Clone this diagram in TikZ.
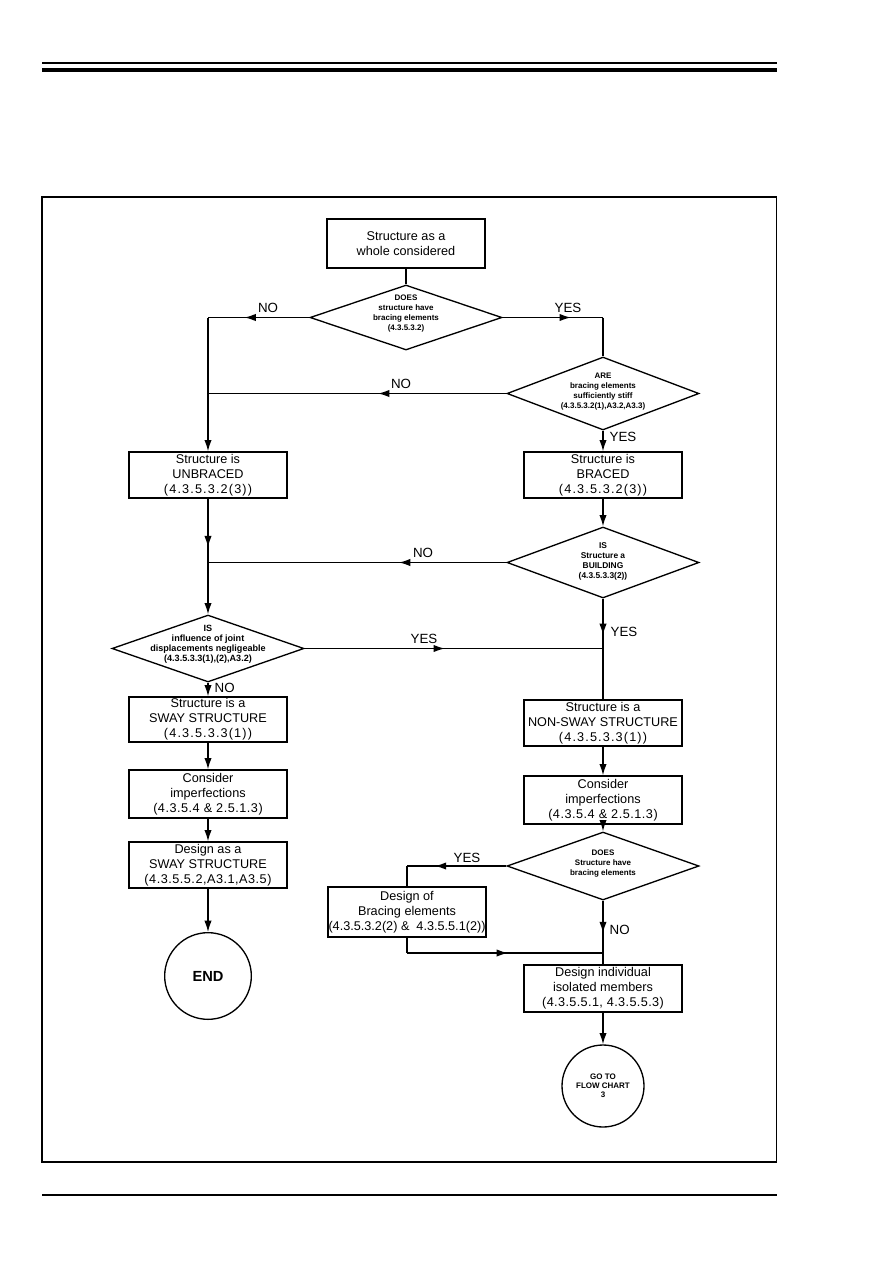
\documentclass[tikz,border=0pt]{standalone}
\usepackage{fontspec}
\setmainfont{Liberation Sans}
\usetikzlibrary{shapes.geometric,arrows.meta,decorations.markings}
\begin{document}
\begin{tikzpicture}[x=0.75pt,y=-0.75pt,line width=1pt,
  box/.style={draw,rectangle,minimum width=118.5pt,inner sep=0pt,align=center,font=\fontsize{9.5}{11.25}\selectfont},
  dia/.style={draw,diamond,inner sep=0pt,minimum width=144pt},
  dtext/.style={inner sep=0pt,align=center,font=\fontsize{6}{7.5}\selectfont\bfseries},
  circ/.style={draw,circle,inner sep=0pt,align=center,font=\bfseries},
  lab/.style={font=\fontsize{10}{12}\selectfont,inner sep=0pt},
  tip/.style={-{Latex[length=8.5pt,width=5.5pt]}},
  marr/.style={postaction={decorate},decoration={markings,mark=at position #1 with {\arrow{Latex[length=8.5pt,width=5.5pt]}}}}
]
\useasboundingbox (0,0) rectangle (893,1263);
% page rules and frame
\draw[line width=0.9pt] (42,63) -- (777,63);
\fill (42,68) rectangle (777,72.5);
\draw[line width=0.9pt] (42,197) rectangle (776.5,1162);
\draw[line width=0.9pt] (42,1195) -- (777,1195);

% nodes
\node[box,minimum height=36.75pt] (n1) at (406,243.5) {Structure as a\\whole considered};
\node[dia,minimum height=48.75pt] (d1) at (406,317.5) {};
\node[dtext] (t1) at (406,314) {DOES\\structure have\\bracing elements\\(4.3.5.3.2)};
\node[dia,minimum height=54.75pt] (d2) at (603,393.5) {};
\node[dtext] (t2) at (603,392) {ARE\\bracing elements\\sufficiently stiff\\(4.3.5.3.2(1),A3.2,A3.3)};
\node[box,minimum height=34.5pt] (unbr) at (208,475) {Structure is\\UNBRACED\\{\addfontfeatures{LetterSpace=9}(4.3.5.3.2(3))}};
\node[box,minimum height=34.5pt] (br) at (603,475) {Structure is\\BRACED\\{\addfontfeatures{LetterSpace=9}(4.3.5.3.2(3))}};
\node[dia,minimum height=53.25pt] (d3) at (603,562.5) {};
\node[dtext,font=\fontsize{6.3}{7.5}\selectfont\bfseries] (t3) at (603,561) {IS\\Structure a\\BUILDING\\(4.3.5.3.3(2))};
\node[dia,minimum height=50.25pt] (d4) at (208,648.5) {};
\node[dtext,font=\fontsize{6.8}{7.5}\selectfont\bfseries] (t4) at (208,644) {IS\\influence of joint\\displacements negligeable\\(4.3.5.3.3(1),(2),A3.2)};
\node[box,minimum height=33.75pt] (sway) at (208,719.5) {Structure is a\\SWAY STRUCTURE\\{\addfontfeatures{LetterSpace=9}(4.3.5.3.3(1))}};
\node[box,minimum height=34.5pt] (nons) at (603,723) {Structure is a\\NON-SWAY STRUCTURE\\{\addfontfeatures{LetterSpace=9}(4.3.5.3.3(1))}};
\node[box,minimum height=36pt] (impL) at (208,794) {Consider\\imperfections\\{\addfontfeatures{LetterSpace=4}(4.3.5.4 \& 2.5.1.3)}};
\node[box,minimum height=36pt] (impR) at (603,800) {Consider\\imperfections\\{\addfontfeatures{LetterSpace=4}(4.3.5.4 \& 2.5.1.3)}};
\node[box,minimum height=34.5pt] (desS) at (208,865) {Design as a\\SWAY STRUCTURE\\{\addfontfeatures{LetterSpace=4}(4.3.5.5.2,A3.1,A3.5)}};
\node[dia,minimum height=51pt] (d5) at (603,866) {};
\node[dtext] (t5) at (603,864) {DOES\\Structure have\\bracing elements};
\node[box,minimum height=37.5pt] (desB) at (407,912) {Design of\\Bracing elements\\(4.3.5.3.2(2) \&\ \ 4.3.5.5.1(2))};
\node[box,minimum height=35.25pt] (desI) at (603,988.5) {Design individual\\isolated members\\{\addfontfeatures{LetterSpace=3}(4.3.5.5.1, 4.3.5.5.3)}};
\node[circ,minimum size=65pt,font=\fontsize{11}{13}\selectfont\bfseries] (endC) at (208,976) {END};
\node[circ,minimum size=61.5pt,font=\fontsize{6}{6.75}\selectfont\bfseries] (goC) at (603,1086) {GO TO\\FLOW CHART\\3};

% corner / junction coordinates
\coordinate (cNW) at (208,317.5);
\coordinate (cNE) at (603,317.5);
\coordinate (cL2) at (208,393.5);
\coordinate (cL3) at (208,562.5);
\coordinate (cR4) at (603,648.5);
\coordinate (cB1) at (407,866);
\coordinate (cB2) at (407,953);
\coordinate (cR5) at (603,953);

% connectors
\draw (n1.south) -- (d1.north);
\draw[marr=0.64] (d1.west) -- (cNW);
\draw[tip] (cNW) -- (unbr.north);
\draw[marr=0.68] (d1.east) -- (cNE);
\draw (cNE) -- (d2.north);
\draw[marr=0.43] (d2.west) -- (cL2);
\draw[tip] (d2.south) -- (br.north);
\draw[tip,marr=0.42] (unbr.south) -- (d4.north);
\draw[tip] (br.south) -- (d3.north);
\draw[marr=0.36] (d3.west) -- (cL3);
\draw[marr=0.73] (d3.south) -- (cR4);
\draw (cR4) -- (nons.north);
\draw[marr=0.47] (d4.east) -- (cR4);
\draw[tip] (d4.south) -- (sway.north);
\draw[tip] (sway.south) -- (impL.north);
\draw[tip] (impL.south) -- (desS.north);
\draw[tip] (desS.south) -- (endC.north);
\draw[tip] (nons.south) -- (impR.north);
\draw[tip] (impR.south) -- (d5.north);
\draw[marr=0.72] (d5.west) -- (cB1);
\draw (cB1) -- (desB.north);
\draw (desB.south) -- (cB2);
\draw[marr=0.515] (cB2) -- (cR5);
\draw[marr=0.62] (d5.south) -- (cR5);
\draw (cR5) -- (desI.north);
\draw[tip] (desI.south) -- (goC.north);

% labels
\node[lab] (l1) at (268,308) {NO};
\node[lab] (l2) at (568,308) {YES};
\node[lab] (l3) at (401,384) {NO};
\node[lab,anchor=west] (l4) at (609,437) {YES};
\node[lab] (l5) at (423,553) {NO};
\node[lab,anchor=west] (l6) at (610,632) {YES};
\node[lab] (l7) at (424,639) {YES};
\node[lab,anchor=west] (l8) at (214,688) {NO};
\node[lab] (l9) at (467,858) {YES};
\node[lab,anchor=west] (l10) at (609,930) {NO};
\end{tikzpicture}
\end{document}
